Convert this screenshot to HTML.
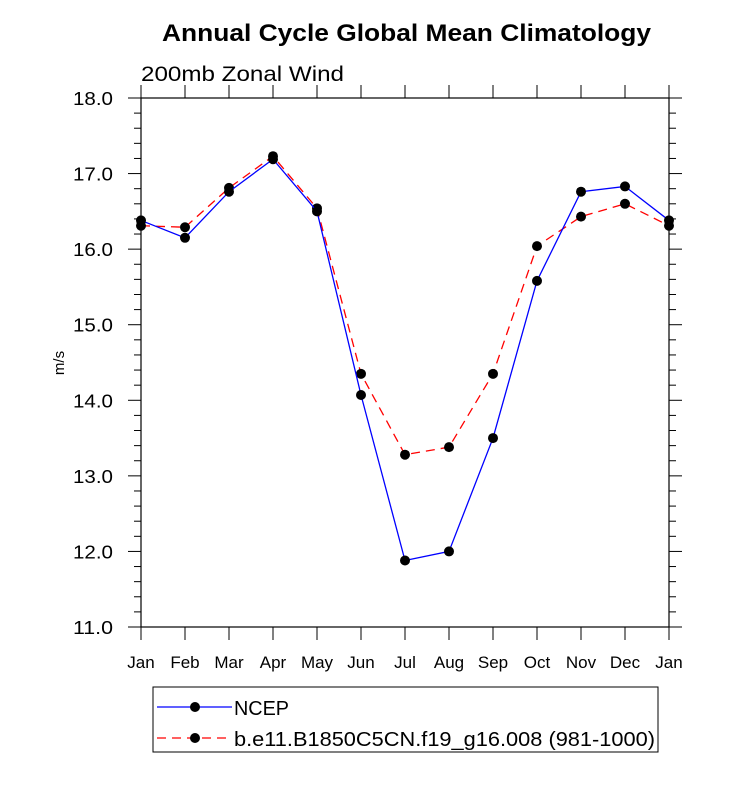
<!DOCTYPE html>
<html><head><meta charset="utf-8"><style>
body{margin:0;background:#fff;}
svg text{font-family:"Liberation Sans",sans-serif;}
</style></head><body>
<svg id="chart" width="733" height="780">
<text x="162" y="41" textLength="489" lengthAdjust="spacingAndGlyphs" font-size="24" font-weight="bold">Annual Cycle Global Mean Climatology</text>
<text x="141" y="81" textLength="203" lengthAdjust="spacingAndGlyphs" font-size="21">200mb Zonal Wind</text>
<text transform="translate(64,363) rotate(-90)" text-anchor="middle" font-size="15">m/s</text>
<g id="axes"></g>
<g id="series"></g>
<g>
<rect x="153" y="687" width="505" height="65" fill="none" stroke="#000" stroke-width="1"/>
<line x1="157" y1="707" x2="232" y2="707" stroke="#0000ff" stroke-width="1.2"/>
<circle cx="195" cy="707" r="5" fill="#000"/>
<text x="234" y="715" font-size="20" textLength="55" lengthAdjust="spacingAndGlyphs">NCEP</text>
<line x1="157" y1="738" x2="232" y2="738" stroke="#ff0000" stroke-width="1.2" stroke-dasharray="9,6"/>
<circle cx="195" cy="738" r="5" fill="#000"/>
<text x="234" y="746" font-size="20" textLength="421" lengthAdjust="spacingAndGlyphs">b.e11.B1850C5CN.f19_g16.008 (981-1000)</text>
</g>
</svg>
<script>
const months=["Jan","Feb","Mar","Apr","May","Jun","Jul","Aug","Sep","Oct","Nov","Dec","Jan"];
const ncep=[16.38,16.15,16.76,17.19,16.50,14.07,11.88,12.00,13.50,15.58,16.76,16.83,16.38];
const model=[16.31,16.29,16.81,17.23,16.54,14.35,13.28,13.38,14.35,16.04,16.43,16.60,16.31];
const yTicks=["11.0","12.0","13.0","14.0","15.0","16.0","17.0","18.0"];
const X0=141,X1=669,Y0=627,Y1=98,ymin=11,ymax=18;
const xs=i=>X0+(X1-X0)*i/(months.length-1);
const ys=v=>Y0-(v-ymin)/(ymax-ymin)*(Y0-Y1);
const NS="http://www.w3.org/2000/svg";
function mk(t,a,p){const e=document.createElementNS(NS,t);for(const k in a)e.setAttribute(k,a[k]);p.appendChild(e);return e;}
const ax=document.getElementById('axes');
const frame=mk('rect',{x:X0,y:Y1,width:X1-X0,height:Y0-Y1,fill:'none',stroke:'#000','stroke-width':1.2},ax);


yTicks.forEach(t=>{const v=parseFloat(t),y=ys(v);
mk('line',{x1:X0,y1:y,x2:X0-13,y2:y,stroke:'#000'},ax);
mk('line',{x1:X1,y1:y,x2:X1+13,y2:y,stroke:'#000'},ax);
const tx=mk('text',{x:X0-28,y:y+7,'text-anchor':'end','font-size':18,textLength:40,lengthAdjust:'spacingAndGlyphs'},ax);tx.textContent=t;


if(v<ymax)for(let m=1;m<5;m++){const yy=ys(v+m*0.2);
mk('line',{x1:X0,y1:yy,x2:X0-7,y2:yy,stroke:'#000'},ax);
mk('line',{x1:X1,y1:yy,x2:X1+7,y2:yy,stroke:'#000'},ax);}
});
months.forEach((m,i)=>{const x=xs(i);
mk('line',{x1:x,y1:Y0,x2:x,y2:Y0+13,stroke:'#000'},ax);
mk('line',{x1:x,y1:Y1,x2:x,y2:Y1-13,stroke:'#000'},ax);
const tx=mk('text',{x:x,y:Y0+41,'text-anchor':'middle','font-size':17},ax);tx.textContent=m;


});
const sg=document.getElementById('series');
function series(vals,color,dash,name){
const p=mk('polyline',{points:vals.map((v,i)=>xs(i)+','+ys(v)).join(' '),fill:'none',stroke:color,'stroke-width':1.3},sg);
if(dash)p.setAttribute('stroke-dasharray',dash);


vals.forEach((v,i)=>{const c=mk('circle',{cx:xs(i),cy:ys(v),r:5,fill:'#000'},sg);

});
}
series(model,'#ff0000','9,6','model');
series(ncep,'#0000ff',null,'ncep');
</script>
</body></html>
